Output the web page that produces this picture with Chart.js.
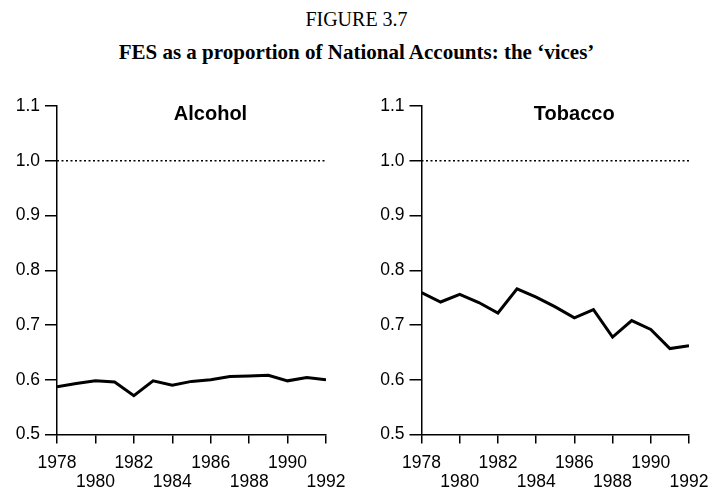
<!DOCTYPE html>
<html>
<head>
<meta charset="utf-8">
<script src="https://cdn.jsdelivr.net/npm/chart.js@4.4.0/dist/chart.umd.min.js"></script>
<style>
  html, body { margin: 0; padding: 0; background: #fff; }
  body { width: 713px; height: 489px; position: relative; overflow: hidden; }
  #fig { position: absolute; top: 8px; left: 0; width: 713px; text-align: center;
         font-family: "Liberation Serif", "Times New Roman", serif; font-size: 20px; color: #000; }
  #sub { position: absolute; top: 40px; left: 0; width: 713px; text-align: center;
         font-family: "Liberation Serif", "Times New Roman", serif; font-size: 21px; font-weight: bold; color: #000; }
  .pane { position: absolute; top: 90px; height: 399px; }
  #c1 { left: 0; width: 356px; }
  #c2 { left: 356px; width: 357px; }
</style>
</head>
<body>
<div id="fig">FIGURE 3.7</div>
<div id="sub">FES as a proportion of National Accounts: the ‘vices’</div>
<div class="pane" id="c1"><canvas id="alc"></canvas></div>
<div class="pane" id="c2"><canvas id="tob"></canvas></div>
<script>
const years = [1978,1979,1980,1981,1982,1983,1984,1985,1986,1987,1988,1989,1990,1991,1992];
const alcohol = [0.587,0.593,0.598,0.596,0.571,0.598,0.590,0.597,0.600,0.606,0.607,0.608,0.598,0.604,0.600];
const tobacco = [0.759,0.742,0.756,0.741,0.722,0.766,0.751,0.733,0.713,0.728,0.678,0.708,0.692,0.657,0.662];
const parity = [1.0,1.0];
const parityYears = [1978,1992];
const yTicks = [0.5,0.6,0.7,0.8,0.9,1.0,1.1];
const xTicks = [1978,1980,1982,1984,1986,1988,1990,1992];
const panelTitles = ['Alcohol','Tobacco'];

const titlePlugin = {
  id: 'panelTitle',
  afterDraw(chart, args, opts) {
    const ctx = chart.ctx, a = chart.chartArea;
    ctx.save();
    ctx.font = 'bold 20px "Liberation Sans", Arial, sans-serif';
    ctx.fillStyle = '#000';
    ctx.textAlign = 'center';
    ctx.textBaseline = 'middle';
    ctx.fillText(opts.text, (a.left + a.right) / 2 + opts.dx, a.top + 8);
    ctx.restore();
  }
};

function makeChart(id, values, title, yWidth, padRight) {
  return new Chart(document.getElementById(id), {
    type: 'line',
    data: {
      datasets: [
        { data: years.map((y, i) => ({x: y, y: values[i]})), borderColor: '#000', borderWidth: 3,
          pointRadius: 0, tension: 0, fill: false, borderJoinStyle: 'miter' },
        { data: parityYears.map((y, i) => ({x: y, y: parity[i]})), borderColor: '#000', borderWidth: 1.5,
          borderDash: [2, 2.5], pointRadius: 0, fill: false }
      ]
    },
    options: {
      responsive: true, maintainAspectRatio: false, animation: false,
      layout: { padding: { top: 16, right: padRight, bottom: 0, left: 0 } },
      plugins: { legend: { display: false }, tooltip: { enabled: false }, title: { display: false },
                 panelTitle: { text: title, dx: 19 } },
      scales: {
        x: {
          type: 'linear', min: 1978, max: 1992,
          afterBuildTicks: s => { s.ticks = xTicks.map(v => ({value: v})); },
          afterFit: s => { s.height = 54.5; s.paddingLeft = 0; s.paddingRight = 0; },
          border: { display: true, color: '#000', width: 1.5 },
          grid: { drawOnChartArea: false, drawTicks: true, tickLength: 9, color: '#000', lineWidth: 1.5 },
          ticks: { color: '#000', padding: 10, maxRotation: 0, autoSkip: false,
                   font: { family: '"Liberation Sans", Arial, sans-serif', size: 17.5, lineHeight: 1.09 },
                   callback: (v) => { const i = xTicks.indexOf(v); return i % 2 === 0 ? [String(v), ''] : ['', String(v)]; } }
        },
        y: {
          min: 0.5, max: 1.1,
          afterBuildTicks: s => { s.ticks = yTicks.map(v => ({value: v})); },
          afterFit: s => { s.width = yWidth; },
          border: { display: true, color: '#000', width: 1.5 },
          grid: { drawOnChartArea: false, drawTicks: true, tickLength: 12, color: '#000', lineWidth: 1.5 },
          ticks: { color: '#000', padding: 5,
                   font: { family: '"Liberation Sans", Arial, sans-serif', size: 17.5 },
                   callback: v => v.toFixed(1) }
        }
      }
    },
    plugins: [titlePlugin]
  });
}
makeChart('alc', alcohol, panelTitles[0], 57, 30);
makeChart('tob', tobacco, panelTitles[1], 65.5, 24);
</script>
</body>
</html>
